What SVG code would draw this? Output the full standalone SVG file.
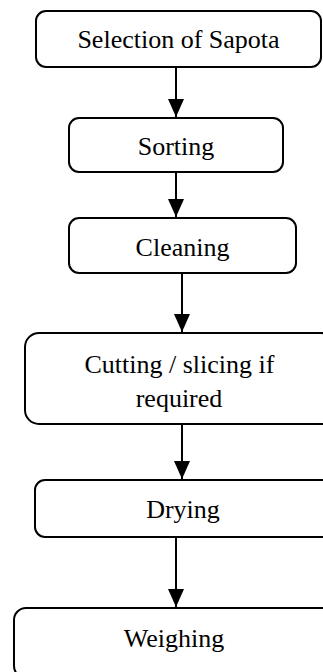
<svg xmlns="http://www.w3.org/2000/svg" width="323" height="672" viewBox="0 0 323 672">
<style>
.box{fill:#fff;stroke:#000;stroke-width:2}
.lbl{font-family:"Liberation Serif","Times New Roman",serif;font-size:26px;fill:#000;text-anchor:middle}
.conn{stroke:#000;stroke-width:2;fill:none;marker-end:url(#ah)}
</style>
<defs>
<marker id="ah" viewBox="0 0 18 16" refX="18" refY="8" markerWidth="18" markerHeight="16" markerUnits="userSpaceOnUse" orient="auto">
<path d="M0,0 L18,8 L0,16 z" fill="#000"/>
</marker>
</defs>
<rect width="323" height="672" fill="#fff"/>
<g id="connectors">
<line class="conn" x1="176" y1="67" x2="176" y2="117"/>
<line class="conn" x1="176" y1="172" x2="176" y2="217"/>
<line class="conn" x1="182" y1="273" x2="182" y2="332"/>
<line class="conn" x1="182" y1="424" x2="182" y2="479"/>
<line class="conn" x1="176" y1="537" x2="176" y2="607"/>
</g>
<g id="n1">
<rect class="box" x="36" y="11" width="285" height="56" rx="10"/>
<text class="lbl" x="178.5" y="48">Selection of Sapota</text>
</g>
<g id="n2">
<rect class="box" x="69" y="118" width="214" height="54" rx="10"/>
<text class="lbl" x="176" y="155">Sorting</text>
</g>
<g id="n3">
<rect class="box" x="69" y="218" width="227" height="55" rx="10"/>
<text class="lbl" x="182.5" y="256">Cleaning</text>
</g>
<g id="n4">
<rect class="box" x="25" y="333" width="310" height="91" rx="14"/>
<text class="lbl" x="179.5" y="373">Cutting / slicing if</text>
<text class="lbl" x="179" y="407">required</text>
</g>
<g id="n5">
<rect class="box" x="35" y="480" width="300" height="57" rx="10"/>
<text class="lbl" x="183" y="518">Drying</text>
</g>
<g id="n6">
<rect class="box" x="14" y="608" width="320" height="70" rx="12"/>
<text class="lbl" x="174" y="647">Weighing</text>
</g>
</svg>
